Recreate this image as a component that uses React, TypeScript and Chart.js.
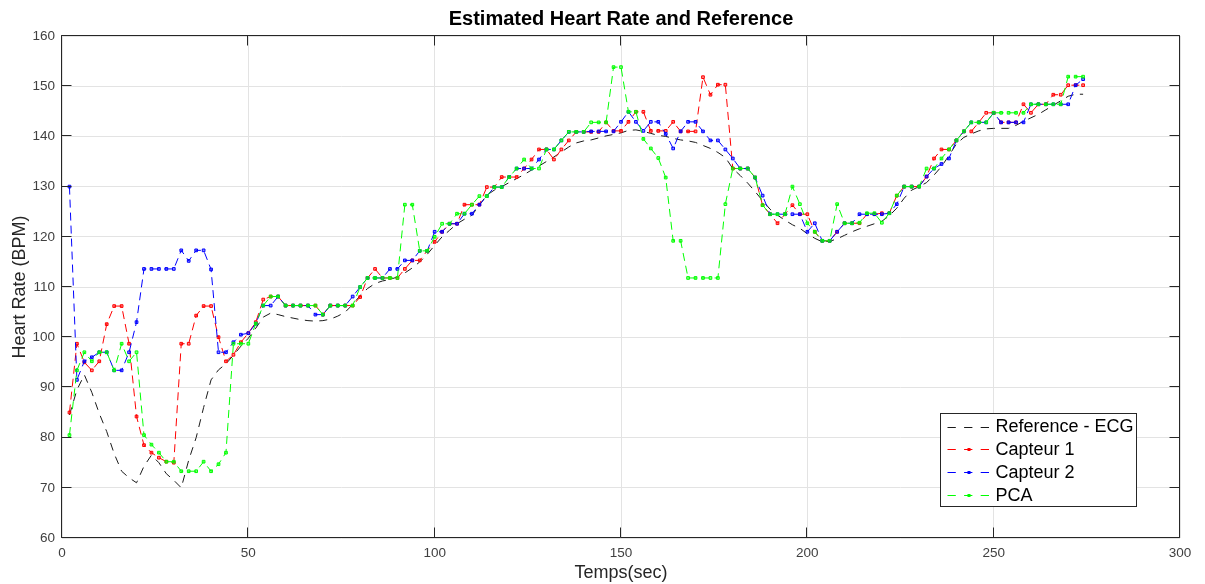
import React, { useEffect, useRef } from 'react';
import { Chart, registerables } from 'chart.js';

Chart.register(...registerables);

const FONT = '"Liberation Sans", Arial, Helvetica, sans-serif';

const times = [
  2, 4, 6, 8, 10, 12, 14, 16, 18, 20, 22, 24, 26, 28, 30, 32, 34, 36, 38, 40, 42, 44, 46, 48, 50,
  52, 54, 56, 58, 60, 62, 64, 66, 68, 70, 72, 74, 76, 78, 80, 82, 84, 86, 88, 90, 92, 94, 96, 98, 100,
  102, 104, 106, 108, 110, 112, 114, 116, 118, 120, 122, 124, 126, 128, 130, 132, 134, 136, 138, 140, 142, 144, 146, 148, 150,
  152, 154, 156, 158, 160, 162, 164, 166, 168, 170, 172, 174, 176, 178, 180, 182, 184, 186, 188, 190, 192, 194, 196, 198, 200,
  202, 204, 206, 208, 210, 212, 214, 216, 218, 220, 222, 224, 226, 228, 230, 232, 234, 236, 238, 240, 242, 244, 246, 248, 250,
  252, 254, 256, 258, 260, 262, 264, 266, 268, 270, 272, 274,
];

const referenceECG = [
  84.5, 89.5, 92.5, 89, 84.8, 81.2, 76.8, 73.3, 72, 71, 74.3, 76.5, 75, 72.8, 71.5, 70, 75.5, 80, 86, 91.5, 93.5, 94.7, 96.4, 98.2, 99.8,
  101.8, 104, 104.8, 104.5, 104.1, 103.8, 103.5, 103.3, 103.2, 103.3, 103.6, 104.2, 105, 106.5, 108.3, 109.7, 110.7, 111.2, 111.5, 112, 112.8, 113.8, 115, 116.5, 118.3,
  120, 121.3, 122.6, 123.5, 124.3, 126.3, 128.3, 129.3, 130, 130.8, 131.6, 132.4, 133.3, 134.1, 135, 135.9, 136.9, 137.9, 138.7, 139.1, 139.3, 139.7, 140.1, 140.4, 140.7,
  141.2, 141.3, 141, 140.6, 140.2, 140, 139.6, 139.3, 139.1, 138.8, 138.2, 137.6, 136.8, 135.8, 133.6, 132.2, 130.7, 129, 127.2, 125.5, 124.3, 123.3, 122.4, 121.7, 120.6,
  119.7, 119, 119.1, 119.6, 120.3, 121, 121.6, 122.1, 122.6, 123.1, 124.2, 125.7, 127.7, 129.3, 130, 130.8, 132.3, 134, 136.2, 138.5, 139.8, 140.5, 141.1, 141.5, 141.6,
  141.6, 141.6, 142.2, 143, 143.7, 144.4, 145.3, 146.2, 147.1, 148, 148.4, 148.4,
];

const capteur1 = [
  85, 98.7, 95, 93.4, 95.2, 102.6, 106.2, 106.2, 98.7, 84.2, 78.5, 77, 76, 75.2, 75, 98.7, 98.7, 104.3, 106.2, 106.2, 100, 95.2, 96.5, 99, 100.8,
  103, 107.5, 108.1, 108.1, 106.3, 106.3, 106.3, 106.3, 106.3, 104.5, 106.3, 106.3, 106.3, 106.3, 108, 111.8, 113.6, 111.8, 111.8, 111.8, 113.6, 115.3, 115.3, 117.2, 119,
  121, 122.6, 122.6, 126.4, 126.4, 126.4, 129.9, 129.9, 131.9, 131.9, 131.9, 133.6, 135.4, 137.4, 137.4, 135.4, 137.4, 139.2, 140.9, 140.9, 140.9, 140.9, 142.8, 141.1, 141.1,
  142.9, 144.9, 144.9, 141.1, 141.1, 141.1, 142.9, 141, 141, 141, 151.8, 148.3, 150.3, 150.3, 133.6, 133.6, 133.6, 131.8, 126.3, 124.5, 122.7, 124.5, 126.3, 124.5, 124.5,
  121, 119.2, 119.2, 121, 122.7, 122.7, 122.7, 124.5, 124.5, 124.7, 124.7, 128.2, 130, 130, 130, 132, 135.6, 137.4, 137.4, 139.2, 141, 141, 142.8, 144.7, 144.7,
  142.8, 142.8, 142.8, 146.4, 144.7, 146.4, 146.4, 148.3, 148.3, 150.2, 150.2, 150.2,
];

const capteur2 = [
  130, 91.5, 95.2, 96, 97, 97, 93.4, 93.4, 97, 103, 113.6, 113.6, 113.6, 113.6, 113.6, 117.3, 115.2, 117.3, 117.3, 113.5, 97, 97, 99, 100.5, 100.8,
  102.7, 106.3, 106.3, 108.1, 106.3, 106.3, 106.3, 106.3, 104.5, 104.5, 106.3, 106.3, 106.3, 108.1, 110, 111.8, 111.8, 111.8, 113.6, 113.6, 115.3, 115.3, 117.2, 117.2, 121,
  121, 122.6, 122.6, 124.6, 124.6, 126.4, 128.1, 129.9, 129.9, 131.9, 133.6, 133.6, 133.6, 135.4, 137.4, 137.4, 139.2, 140.9, 140.9, 140.9, 141, 141, 141, 141, 142.9,
  144.9, 142.9, 141.1, 142.9, 142.9, 140.5, 137.6, 141, 142.9, 142.9, 141, 139.2, 139.2, 137.4, 135.6, 133.6, 133.6, 131.8, 128.2, 124.5, 124.5, 124.5, 124.5, 124.5, 121,
  122.7, 119.2, 119.2, 121, 122.7, 122.7, 124.5, 124.5, 124.5, 124.5, 124.7, 126.5, 130, 130, 130, 132, 133.6, 134.5, 135.6, 139.2, 141, 142.8, 142.8, 142.8, 144.7,
  142.8, 142.8, 142.8, 142.8, 146.4, 146.4, 146.4, 146.4, 146.4, 146.4, 150.2, 151.4,
];

const pca = [
  80.5, 93.4, 97, 95.2, 97, 97, 93.4, 98.7, 95.2, 97, 80.5, 78.6, 77, 75.2, 75.2, 73.3, 73.3, 73.3, 75.2, 73.3, 74.7, 77, 98.7, 98.7, 98.7,
  102.7, 106.3, 108.1, 108.1, 106.3, 106.3, 106.3, 106.3, 106.3, 104.5, 106.3, 106.3, 106.3, 106.3, 110, 111.8, 111.8, 111.8, 111.8, 111.8, 126.4, 126.4, 117.2, 117.2, 120,
  122.6, 122.6, 124.6, 124.6, 126.4, 128.1, 128.1, 129.9, 129.9, 131.9, 133.6, 135.4, 133.6, 133.6, 137.4, 137.4, 139.2, 140.9, 140.9, 140.9, 142.8, 142.8, 142.8, 153.8, 153.8,
  144.9, 144.9, 139.5, 137.6, 135.7, 131.8, 119.2, 119.2, 111.8, 111.8, 111.8, 111.8, 111.8, 126.5, 133.6, 133.6, 133.6, 131.8, 126.3, 124.5, 124.5, 124.5, 130, 126.5, 122.7,
  121, 119.2, 119.2, 126.5, 122.7, 122.7, 122.8, 124.7, 124.7, 122.8, 124.7, 128.2, 130, 130, 130, 133.6, 133.6, 135.6, 137.4, 139.2, 141, 142.8, 142.8, 142.8, 144.7,
  144.7, 144.7, 144.7, 144.7, 146.4, 146.4, 146.4, 146.4, 146.4, 151.9, 151.9, 151.9,
];

const seriesNames = ['Reference - ECG', 'Capteur 1', 'Capteur 2', 'PCA'];
const seriesColors = ['#1a1a1a', '#ff0000', '#0000ff', '#00ff00'];
const seriesFills = ['#1a1a1a', 'rgba(255,0,0,0.45)', 'rgba(0,0,255,0.45)', 'rgba(0,255,0,0.45)'];
const seriesMarkers = [false, true, true, true];

const xTicks = [0, 50, 100, 150, 200, 250, 300];
const yTicks = [60, 70, 80, 90, 100, 110, 120, 130, 140, 150, 160];

const titleText = 'Estimated Heart Rate and Reference';
const xLabel = 'Temps(sec)';
const yLabel = 'Heart Rate (BPM)';

const framePlugin = {
  id: 'matlabFrame',
  afterDraw(chart: any) {
    const { ctx, chartArea: a, scales } = chart;
    ctx.save();
    ctx.strokeStyle = '#262626';
    ctx.lineWidth = 1;
    ctx.setLineDash([]);
    const L = Math.round(a.left) - 0.5;
    const R = Math.round(a.right) - 0.5;
    const T = Math.round(a.top) - 0.5;
    const B = Math.round(a.bottom) - 0.5;
    ctx.beginPath();
    ctx.rect(L, T, R - L, B - T);
    ctx.stroke();
    const tl = 10;
    ctx.beginPath();
    xTicks.forEach((v) => {
      const px = Math.round(scales.x.getPixelForValue(v)) - 0.5;
      ctx.moveTo(px, B);
      ctx.lineTo(px, B - tl);
      ctx.moveTo(px, T);
      ctx.lineTo(px, T + tl);
    });
    yTicks.forEach((v) => {
      const py = Math.round(scales.y.getPixelForValue(v)) - 0.5;
      ctx.moveTo(L, py);
      ctx.lineTo(L + tl, py);
      ctx.moveTo(R, py);
      ctx.lineTo(R - tl, py);
    });
    ctx.stroke();

    ctx.fillStyle = '#000000';
    ctx.font = `bold 20px ${FONT}`;
    ctx.textAlign = 'center';
    ctx.textBaseline = 'alphabetic';
    ctx.fillText(titleText, (a.left + a.right) / 2, 24.5);

    const w = 196;
    const h = 93;
    const x0 = Math.round(a.right - 240) + 0.5;
    const y0 = Math.round(a.bottom - 125) + 0.5;
    ctx.fillStyle = '#ffffff';
    ctx.fillRect(x0, y0, w, h);
    ctx.strokeStyle = '#262626';
    ctx.lineWidth = 1;
    ctx.strokeRect(x0, y0, w, h);
    ctx.font = `18px ${FONT}`;
    ctx.textAlign = 'left';
    ctx.textBaseline = 'middle';
    seriesNames.forEach((name, i) => {
      const cy = y0 + 13 + i * 22.7;
      const color = seriesColors[i];
      ctx.strokeStyle = color;
      ctx.lineWidth = 1;
      ctx.setLineDash([8.3, 8.3]);
      ctx.beginPath();
      ctx.moveTo(x0 + 7, Math.round(cy) + 0.5);
      ctx.lineTo(x0 + 50, Math.round(cy) + 0.5);
      ctx.stroke();
      ctx.setLineDash([]);
      if (seriesMarkers[i]) {
        ctx.fillStyle = color;
        ctx.fillRect(x0 + 27, Math.round(cy) - 1, 3, 3);
      }
      ctx.fillStyle = '#000000';
      ctx.fillText(name, x0 + 55, cy + 1);
    });
    ctx.restore();
  },
};

export default function App() {
  const ref = useRef<HTMLCanvasElement | null>(null);

  useEffect(() => {
    if (!ref.current) return;
    const seriesValues = [referenceECG, capteur1, capteur2, pca];
    const datasets = seriesValues.map((vals, i) => ({
      label: seriesNames[i],
      data: times.map((t, j) => ({ x: t, y: vals[j] })),
      borderColor: seriesColors[i],
      backgroundColor: seriesColors[i],
      borderWidth: 1,
      borderDash: i === 0 ? [8, 6.5] : [8, 5],
      pointStyle: 'rect',
      pointRadius: seriesMarkers[i] ? 1.9 : 0,
      pointBorderWidth: 1,
      pointBorderColor: seriesColors[i],
      pointBackgroundColor: seriesFills[i],
      tension: 0,
      fill: false,
      order: 4 - i,
    }));

    const chart = new Chart(ref.current, {
      type: 'line',
      data: { datasets },
      options: {
        animation: false,
        responsive: false,
        maintainAspectRatio: false,
        layout: { padding: { top: 36, right: 25, left: 0, bottom: 0 } },
        plugins: {
          legend: { display: false },
          tooltip: { enabled: false },
          title: { display: false },
        },
        elements: { line: { borderCapStyle: 'butt' } },
        scales: {
          x: {
            type: 'linear',
            min: 0,
            max: 300,
            afterBuildTicks: (axis: any) => {
              axis.ticks = xTicks.map((v) => ({ value: v }));
            },
            ticks: {
              color: '#404040',
              font: { family: FONT, size: 13.5 },
              padding: 7,
              maxRotation: 0,
              autoSkip: false,
            },
            grid: { color: '#e3e3e3', lineWidth: 1, drawTicks: false },
            border: { display: false },
            title: {
              display: true,
              text: xLabel,
              color: '#262626',
              font: { family: FONT, size: 18 },
              padding: { top: 0, bottom: 0 },
            },
            afterFit: (axis: any) => {
              axis.height = 46;
            },
          },
          y: {
            type: 'linear',
            min: 60,
            max: 160,
            afterBuildTicks: (axis: any) => {
              axis.ticks = yTicks.map((v) => ({ value: v }));
            },
            ticks: {
              color: '#404040',
              font: { family: FONT, size: 13.5 },
              padding: 7,
              autoSkip: false,
            },
            grid: { color: '#e3e3e3', lineWidth: 1, drawTicks: false },
            border: { display: false },
            title: {
              display: true,
              text: yLabel,
              color: '#262626',
              font: { family: FONT, size: 18 },
              padding: { top: 9, bottom: 0 },
            },
            afterFit: (axis: any) => {
              axis.width = 62;
            },
          },
        },
      } as any,
      plugins: [framePlugin],
    });
    return () => chart.destroy();
  }, []);

  return (
    <div style={{ position: 'absolute', left: 0, top: 0, width: 1205, height: 584, background: '#ffffff' }}>
      <canvas ref={ref} width={1205} height={584} style={{ display: 'block' }} />
    </div>
  );
}
